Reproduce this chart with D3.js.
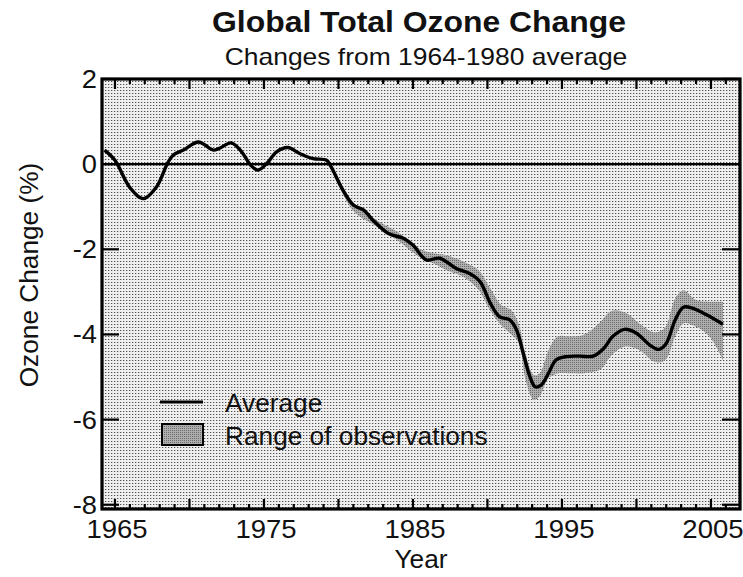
<!DOCTYPE html>
<html>
<head>
<meta charset="utf-8">
<script src="https://cdn.jsdelivr.net/npm/d3@7"></script>
<style>
  html, body { margin: 0; padding: 0; background: #fff; }
  svg { display: block; }
  text { font-family: "Liberation Sans", Arial, Helvetica, sans-serif; fill: #111; }
</style>
</head>
<body>
<svg id="chart" width="743" height="577"></svg>
<script>
// ---- data ----
const avgYears = [1964.3, 1965.0, 1966.0, 1966.9, 1967.8, 1968.5, 1968.9, 1969.6, 1970.6, 1971.6, 1972.0, 1972.8, 1973.5, 1974.1, 1974.6, 1975.2, 1975.85, 1976.6, 1977.4, 1978.3, 1979.2, 1979.5, 1980.3, 1981.0, 1981.7, 1982.3, 1983.35, 1984.35, 1985.0, 1985.9, 1986.8, 1987.9, 1988.8, 1989.5, 1990.2, 1990.8, 1991.5, 1991.96, 1992.4, 1992.85, 1993.2, 1993.6, 1994.1, 1994.6, 1995.3, 1996.2, 1997.1, 1997.8, 1998.4, 1999.2, 2000.0, 2000.9, 2001.5, 2002.0, 2002.6, 2003.15, 2003.8, 2004.7, 2005.8];
const avgValues = [0.33, 0.09, -0.55, -0.81, -0.53, 0.0, 0.21, 0.33, 0.52, 0.33, 0.37, 0.50, 0.29, -0.02, -0.14, 0.02, 0.29, 0.39, 0.25, 0.13, 0.09, -0.06, -0.61, -0.96, -1.08, -1.31, -1.63, -1.74, -1.90, -2.25, -2.21, -2.45, -2.57, -2.76, -3.27, -3.58, -3.66, -3.90, -4.44, -4.99, -5.23, -5.19, -4.91, -4.60, -4.52, -4.51, -4.51, -4.33, -4.05, -3.88, -3.97, -4.25, -4.35, -4.21, -3.66, -3.36, -3.39, -3.54, -3.76];

const bandYears = [1979.5, 1981, 1982.5, 1984, 1985.5, 1986.5, 1987.25, 1988.4, 1989.4, 1990.2, 1990.9, 1991.6, 1992.1, 1992.55, 1993.1, 1993.5, 1994.1, 1994.7, 1995.5, 1996.5, 1997.6, 1998.3, 1999.2, 2000.2, 2001.2, 2001.9, 2002.6, 2003.15, 2004.0, 2004.9, 2005.8];
const bandHigh = [-0.02, -0.9, -1.3, -1.6, -2.0, -2.1, -2.14, -2.29, -2.49, -2.92, -3.3, -3.43, -3.75, -4.45, -4.95, -4.91, -4.37, -4.05, -4.05, -4.0, -3.7, -3.45, -3.48, -3.74, -3.95, -3.85, -3.15, -2.96, -3.19, -3.23, -3.23];
const bandLow  = [-0.1, -1.1, -1.45, -1.8, -2.2, -2.35, -2.49, -2.65, -2.95, -3.45, -3.78, -4.0, -4.2, -5.05, -5.54, -5.46, -5.03, -4.92, -4.91, -4.91, -4.82, -4.5, -4.29, -4.37, -4.64, -4.62, -4.05, -3.74, -3.82, -4.05, -4.6];

const yTickValues = [2, 0, -2, -4, -6, -8];
const xLabelYears = [1965, 1975, 1985, 1995, 2005];
const titleText = "Global Total Ozone Change";
const subtitleText = "Changes from 1964-1980 average";
const xAxisTitle = "Year";
const yAxisTitle = "Ozone Change (%)";
const legendLabels = ["Average", "Range of observations"];

// ---- layout ----
const svg = d3.select("#chart");
const L = 102, R = 740, T = 79, B = 509;
const x = d3.scaleLinear().domain([1964.13, 2006.95]).range([L, R]);
const y = d3.scaleLinear().domain([-8.1, 2]).range([B, T]);

function addText(px, py, str, size, anchor, sx, weight, rot) {
  const tr = `translate(${px},${py})` + (rot ? ` rotate(${rot})` : "") + ` scale(${sx},1)`;
  return svg.append("text").attr("transform", tr)
    .attr("text-anchor", anchor).attr("font-size", size)
    .attr("font-weight", weight || "normal").text(str);
}

const defs = svg.append("defs");
const p1 = defs.append("pattern").attr("id", "stip").attr("width", 3).attr("height", 3)
  .attr("patternUnits", "userSpaceOnUse");
p1.append("rect").attr("width", 3).attr("height", 3).attr("fill", "#efefef");
p1.append("rect").attr("width", 1).attr("height", 1).attr("fill", "#505050");
p1.append("rect").attr("x", 1).attr("width", 1).attr("height", 1).attr("fill", "#c0c0c0");

const p2 = defs.append("pattern").attr("id", "bandpat").attr("width", 2).attr("height", 2)
  .attr("patternUnits", "userSpaceOnUse");
p2.append("rect").attr("width", 2).attr("height", 2).attr("fill", "#adadad");
p2.append("rect").attr("width", 1).attr("height", 1).attr("fill", "#6e6e6e");

// plot background
svg.append("rect").attr("x", L).attr("y", T).attr("width", R - L).attr("height", B - T)
  .attr("fill", "url(#stip)");

// band
const bandData = bandYears.map((yr, i) => ({ yr, lo: bandLow[i], hi: bandHigh[i] }));
const area = d3.area().x(d => x(d.yr)).y0(d => y(d.lo)).y1(d => y(d.hi))
  .curve(d3.curveCatmullRom.alpha(0.5));
svg.append("path").datum(bandData).attr("d", area).attr("fill", "url(#bandpat)");

// zero line
svg.append("line").attr("x1", L).attr("x2", R).attr("y1", y(0)).attr("y2", y(0))
  .attr("stroke", "#000").attr("stroke-width", 2.4);

// average line
const avgData = avgYears.map((yr, i) => ({ yr, v: avgValues[i] }));
const line = d3.line().x(d => x(d.yr)).y(d => y(d.v)).curve(d3.curveCatmullRom.alpha(0.5));
svg.append("path").datum(avgData).attr("d", line).attr("fill", "none")
  .attr("stroke", "#000").attr("stroke-width", 3.4).attr("stroke-linejoin", "round");

// ticks on x axes (inward)
const minorYears = d3.range(1965, 2007);
function xTicks(isTop) {
  const g = svg.append("g");
  g.selectAll("line").data(minorYears).join("line")
    .attr("x1", d => x(d)).attr("x2", d => x(d))
    .attr("y1", isTop ? T : B)
    .attr("y2", d => (isTop ? T : B) + (isTop ? 1 : -1) * (d % 5 === 0 ? 10 : 5))
    .attr("stroke", "#000").attr("stroke-width", 2.2);
}
xTicks(true); xTicks(false);

// y ticks inward on both sides
svg.append("g").selectAll("line").data(yTickValues).join("line")
  .attr("x1", L).attr("x2", L + 17).attr("y1", d => y(d)).attr("y2", d => y(d))
  .attr("stroke", "#000").attr("stroke-width", 2.2);
svg.append("g").selectAll("line").data(yTickValues).join("line")
  .attr("x1", R).attr("x2", R - 18).attr("y1", d => y(d)).attr("y2", d => y(d))
  .attr("stroke", "#000").attr("stroke-width", 2.2);

// frame
svg.append("rect").attr("x", L).attr("y", T).attr("width", R - L).attr("height", B - T)
  .attr("fill", "none").attr("stroke", "#000").attr("stroke-width", 3.2);

// y tick labels
yTickValues.forEach(v => addText(L - 5, y(v) + 9, v, 26, "end", 1.05));

// x tick labels
xLabelYears.forEach(v => addText(x(v) + 2, 538, v, 25, "middle", 1.1));

// axis titles
addText(421, 568, xAxisTitle, 25, "middle", 1.05);
addText(38, 275, yAxisTitle, 25, "middle", 1.05, "normal", -90);

// titles
addText(419, 32, titleText, 29, "middle", 1.1, "bold");
addText(426, 65, subtitleText, 23, "middle", 1.15);

// legend
svg.append("line").attr("x1", 160).attr("x2", 203).attr("y1", 402).attr("y2", 402)
  .attr("stroke", "#000").attr("stroke-width", 3);
addText(225, 412, legendLabels[0], 25, "start", 1.05);
svg.append("rect").attr("x", 162).attr("y", 424).attr("width", 41).attr("height", 21)
  .attr("fill", "url(#bandpat)").attr("stroke", "#000").attr("stroke-width", 2);
addText(225, 445, legendLabels[1], 25, "start", 1.05);
</script>
</body>
</html>
